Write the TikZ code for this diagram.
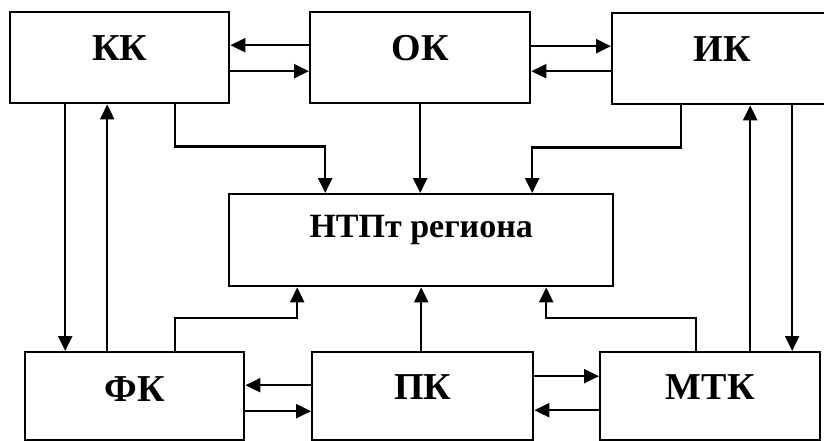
\documentclass[tikz,border=0pt]{standalone}
\usepackage{fontspec}
\setmainfont{Liberation Serif}
\usetikzlibrary{arrows.meta}
\tikzset{
  box/.style={draw, line width=2.4pt, inner sep=0pt, anchor=north west},
  big/.style={font=\fontsize{38}{42}\selectfont\bfseries, text depth=0pt},
  mid/.style={font=\fontsize{34}{38}\selectfont\bfseries, text depth=0pt},
  arr/.style={line width=2.4pt, -{Triangle[length=15pt,width=14pt]}},
}
\begin{document}
\begin{tikzpicture}[x=1pt,y=-1pt]
\useasboundingbox (0,0) rectangle (824,441);
% top row
\node[box, minimum width=219pt, minimum height=91pt,
      label={[big,yshift=9.5pt]center:КК}] (kk) at (9,11) {};
\node[box, minimum width=220pt, minimum height=91pt,
      label={[big,yshift=9.5pt]center:ОК}] (ok) at (309,11) {};
\node[box, minimum width=220pt, minimum height=91pt,
      label={[big,yshift=9.5pt]center:ИК}] (ik) at (611,12) {};
% centre
\node[box, minimum width=384pt, minimum height=92pt,
      label={[mid,yshift=13.5pt]center:НТПт региона}] (nt) at (228,193) {};
% bottom row
\node[box, minimum width=219pt, minimum height=88pt,
      label={[big,yshift=7pt]center:ФК}] (fk) at (24,351) {};
\node[box, minimum width=221pt, minimum height=88pt,
      label={[big,yshift=9pt]center:ПК}] (pk) at (311,351) {};
\node[box, minimum width=220pt, minimum height=88pt,
      label={[big,yshift=9pt]center:МТК}] (mtk) at (599,351) {};
% top horizontal pairs
\draw[arr] ([yshift=12.5pt]ok.west) -- ([yshift=12.5pt]kk.east);
\draw[arr] ([yshift=-13.5pt]kk.east) -- ([yshift=-13.5pt]ok.west);
\draw[arr] ([yshift=11.5pt]ok.east) -- ([yshift=11.5pt]ok.east -| ik.west);
\draw[arr] ([yshift=-13.5pt]ok.east -| ik.west) -- ([yshift=-13.5pt]ok.east);
% bottom horizontal pairs
\draw[arr] ([yshift=11pt]pk.west) -- ([yshift=11pt]fk.east);
\draw[arr] ([yshift=-15pt]fk.east) -- ([yshift=-15pt]pk.west);
\draw[arr] ([yshift=20pt]pk.east) -- ([yshift=20pt]pk.east -| mtk.west);
\draw[arr] ([yshift=-14pt]pk.east -| mtk.west) -- ([yshift=-14pt]pk.east);
% KK <-> FK
\draw[arr] ([xshift=-54.5pt]kk.south) -- ([xshift=-54.5pt]kk.south |- fk.north);
\draw[arr] ([xshift=-12.5pt]kk.south |- fk.north) -- ([xshift=-12.5pt]kk.south);
% IK <-> MTK
\draw[arr] ([xshift=28pt]ik.south |- mtk.north) -- ([xshift=28pt]ik.south);
\draw[arr] ([xshift=70pt]ik.south) -- ([xshift=70pt]ik.south |- mtk.north);
% top to centre
\draw[arr] ([xshift=55.5pt]kk.south) -- ++(0,42) -| ([xshift=-96pt]nt.north);
\draw[arr] (ok.south) -- (ok.south |- nt.north);
\draw[arr] ([xshift=-41pt]ik.south) -- ++(0,42) -| ([xshift=111pt]nt.north);
% bottom to centre
\draw[arr] ([xshift=40.5pt]fk.north) -- ++(0,-33) -| ([xshift=-124pt]nt.south);
\draw[arr] (nt.south |- pk.north) -- (nt.south);
\draw[arr] ([xshift=-14pt]mtk.north) -- ++(0,-33) -| ([xshift=125pt]nt.south);
\end{tikzpicture}
\end{document}
